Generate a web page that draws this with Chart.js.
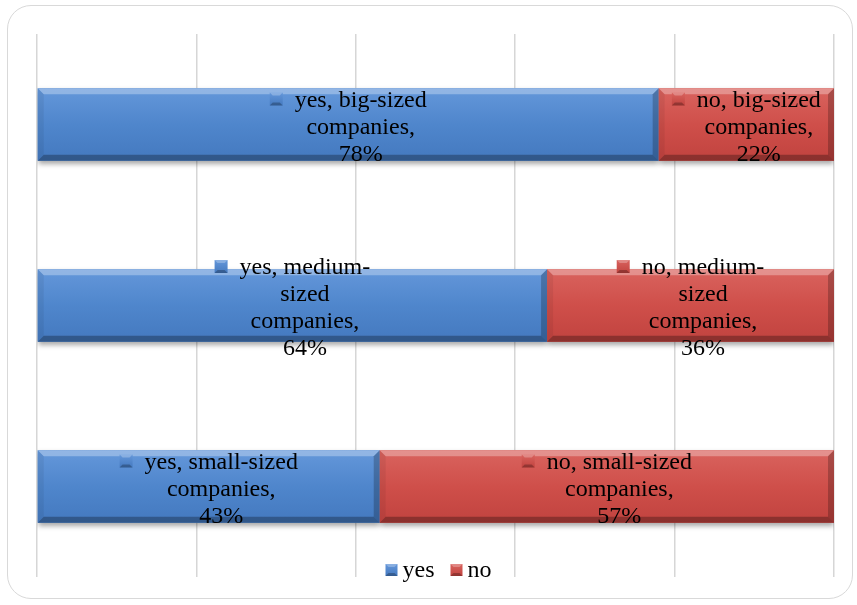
<!DOCTYPE html>
<html>
<head>
<meta charset="utf-8">
<script src="https://cdn.jsdelivr.net/npm/chart.js@4.4.1/dist/chart.umd.min.js"></script>
<style>
  html, body { margin: 0; padding: 0; background: #fff; }
  #wrap { position: relative; width: 857px; height: 605px; }
  #frame {
    position: absolute; left: 7px; top: 5px; width: 846px; height: 594px;
    border: 1.5px solid #d9d9d9; border-radius: 24px; box-sizing: border-box;
  }
  canvas { position: absolute; left: 0; top: 0; }
</style>
</head>
<body>
<div id="wrap">
  <div id="frame"></div>
  <canvas id="surveyChart" width="857" height="605"></canvas>
</div>
<script>
const categories = ['big-sized', 'medium-sized', 'small-sized'];
const yesValues = [78, 64, 43];
const noValues = [22, 36, 57];
const gridTicks = [0, 20, 40, 60, 80, 100];

const FONT = '"Liberation Serif", "Times New Roman", serif';
const palette = {
  yes: { base: '#4f86cc', top: '#6497da', bottom: '#4479bf' },
  no:  { base: '#cf4f4a', top: '#d9635e', bottom: '#c1433f' }
};

// break text after spaces and hyphens, Excel-style
function wrapText(ctx, text, maxW) {
  const pieces = [];
  text.split(' ').forEach((w, i) => {
    w.split(/(?<=-)/).forEach((p, j) => pieces.push({ t: p, sep: (j === 0 && i > 0) ? ' ' : '' }));
  });
  const lines = [];
  let cur = '';
  pieces.forEach(p => {
    const test = cur ? cur + p.sep + p.t : p.t;
    if (cur && ctx.measureText(test).width > maxW) { lines.push(cur); cur = p.t; }
    else cur = test;
  });
  if (cur) lines.push(cur);
  return lines;
}

function drawKey(ctx, x, y, s, col) {
  const g = ctx.createLinearGradient(0, y, 0, y + s);
  g.addColorStop(0, col.top);
  g.addColorStop(1, col.bottom);
  ctx.fillStyle = g;
  ctx.fillRect(x, y, s, s);
  ctx.fillStyle = 'rgba(255,255,255,0.25)';
  ctx.beginPath();
  ctx.moveTo(x, y); ctx.lineTo(x + s, y); ctx.lineTo(x + s - 3, y + 3); ctx.lineTo(x + 3, y + 3);
  ctx.fill();
  ctx.fillStyle = 'rgba(0,0,0,0.25)';
  ctx.beginPath();
  ctx.moveTo(x, y + s); ctx.lineTo(x + s, y + s); ctx.lineTo(x + s - 3, y + s - 3); ctx.lineTo(x + 3, y + s - 3);
  ctx.fill();
}

const bevelPlugin = {
  id: 'bevelBars',
  beforeDatasetsDraw(chart) {
    const ctx = chart.ctx;
    ctx.save();
    ctx.shadowColor = 'rgba(0,0,0,0.35)';
    ctx.shadowBlur = 5;
    ctx.shadowOffsetY = 3;
  },
  afterDatasetsDraw(chart) {
    const ctx = chart.ctx;
    ctx.restore();
    const b = 6;
    chart.data.datasets.forEach((ds, di) => {
      const col = palette[ds.key];
      chart.getDatasetMeta(di).data.forEach(bar => {
        const x0 = Math.min(bar.x, bar.base), x1 = Math.max(bar.x, bar.base);
        const y0 = bar.y - bar.height / 2, y1 = bar.y + bar.height / 2;
        const g = ctx.createLinearGradient(0, y0, 0, y1);
        g.addColorStop(0, col.top);
        g.addColorStop(0.5, col.base);
        g.addColorStop(1, col.bottom);
        ctx.save();
        ctx.fillStyle = g;
        ctx.fillRect(x0, y0, x1 - x0, y1 - y0);
        const quad = (pts, fill) => {
          ctx.fillStyle = fill;
          ctx.beginPath();
          ctx.moveTo(pts[0][0], pts[0][1]);
          pts.slice(1).forEach(p => ctx.lineTo(p[0], p[1]));
          ctx.closePath();
          ctx.fill();
        };
        quad([[x0, y0], [x1, y0], [x1 - b, y0 + b], [x0 + b, y0 + b]], 'rgba(255,255,255,0.30)');
        quad([[x0, y1], [x1, y1], [x1 - b, y1 - b], [x0 + b, y1 - b]], 'rgba(0,0,0,0.28)');
        quad([[x0, y0], [x0 + b, y0 + b], [x0 + b, y1 - b], [x0, y1]], 'rgba(0,0,0,0.06)');
        quad([[x1, y0], [x1 - b, y0 + b], [x1 - b, y1 - b], [x1, y1]], 'rgba(0,0,0,0.22)');
        ctx.restore();
      });
    });
  }
};

const labelPlugin = {
  id: 'barLabels',
  afterDatasetsDraw(chart) {
    const ctx = chart.ctx;
    const lineH = 27, keyS = 13, gap = 12, maxW = 158;
    ctx.save();
    ctx.font = '24px ' + FONT;
    ctx.textAlign = 'center';
    ctx.textBaseline = 'middle';
    chart.data.datasets.forEach((ds, di) => {
      chart.getDatasetMeta(di).data.forEach((bar, i) => {
        const lines = wrapText(ctx, ds.label + ', ' + categories[i] + ' companies,', maxW);
        lines.push(ds.data[i] + '%');
        const blockW = Math.max(...lines.map(l => ctx.measureText(l).width));
        const boxW = keyS + gap + blockW;
        const cx = (bar.x + bar.base) / 2;
        const left = cx - boxW / 2;
        const tx = left + keyS + gap + blockW / 2;
        const top = bar.y + 3 - (lines.length * lineH) / 2;
        drawKey(ctx, left, top + lineH / 2 - 8, keyS, palette[ds.key]);
        ctx.fillStyle = '#000';
        lines.forEach((l, k) => ctx.fillText(l, tx, top + lineH / 2 + k * lineH));
      });
    });
    ctx.restore();
  }
};

const legendPlugin = {
  id: 'bottomLegend',
  afterDraw(chart) {
    const ctx = chart.ctx;
    const area = chart.chartArea;
    const keyS = 12, keyGap = 5, itemGap = 16, y = 571;
    ctx.save();
    ctx.font = '24px ' + FONT;
    ctx.textBaseline = 'middle';
    ctx.textAlign = 'left';
    const items = chart.data.datasets.map(ds => ({ ds, w: keyS + keyGap + ctx.measureText(ds.label).width }));
    const total = items.reduce((s, it) => s + it.w, 0) + itemGap * (items.length - 1);
    let x = (area.left + area.right) / 2 + 3 - total / 2;
    items.forEach(it => {
      drawKey(ctx, x, y - 7, keyS, palette[it.ds.key]);
      ctx.fillStyle = '#000';
      ctx.fillText(it.ds.label, x + keyS + keyGap, y);
      x += it.w + itemGap;
    });
    ctx.restore();
  }
};

function drawChart() {
  new Chart(document.getElementById('surveyChart'), {
    type: 'bar',
    data: {
      labels: categories,
      datasets: [
        { key: 'yes', label: 'yes', data: yesValues, backgroundColor: palette.yes.base },
        { key: 'no', label: 'no', data: noValues, backgroundColor: palette.no.base }
      ]
    },
    options: {
      indexAxis: 'y',
      responsive: false,
      animation: false,
      barPercentage: 0.4,
      categoryPercentage: 1,
      layout: { padding: { left: 37, right: 23, top: 34, bottom: 28 } },
      scales: {
        x: {
          stacked: true,
          min: 0,
          max: 100,
          afterBuildTicks: axis => { axis.ticks = gridTicks.map(v => ({ value: v })); },
          ticks: { display: false },
          grid: { color: '#d6d6d6', lineWidth: 1.5, drawTicks: false },
          border: { display: false }
        },
        y: {
          stacked: true,
          display: false
        }
      },
      plugins: {
        legend: { display: false },
        tooltip: { enabled: false }
      }
    },
    plugins: [bevelPlugin, labelPlugin, legendPlugin]
  });
}

document.fonts.load('24px "Liberation Serif"').then(drawChart, drawChart);
</script>
</body>
</html>
